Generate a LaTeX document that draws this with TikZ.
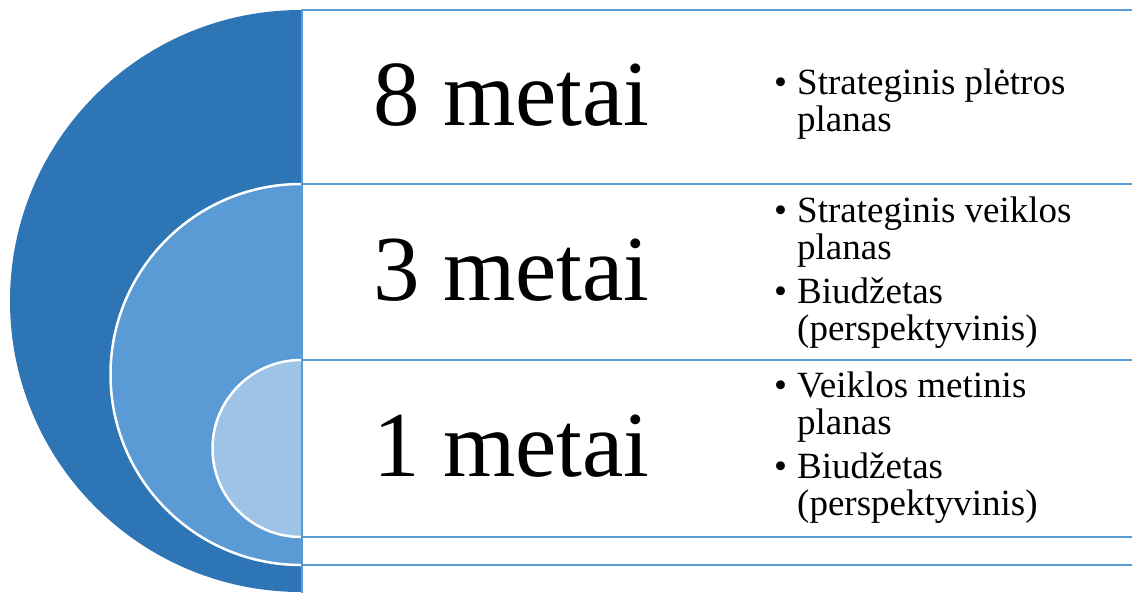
\documentclass[tikz,border=0pt]{standalone}
\usepackage{fontspec}
\IfFontExistsTF{LiberationSerif-Regular.ttf}
  {\setmainfont{LiberationSerif}[Extension=.ttf,UprightFont=*-Regular,BoldFont=*-Bold,ItalicFont=*-Italic,BoldItalicFont=*-BoldItalic]}
  {\setmainfont{Liberation Serif}}
\definecolor{dblue}{HTML}{2E75B6}
\definecolor{mblue}{HTML}{5B9BD5}
\definecolor{lblue}{HTML}{9DC3E6}
\begin{document}
\begin{tikzpicture}[x=1pt,y=-1pt,
  ring/.style={draw=white,line width=2.5pt},
  panel/.style={draw=mblue,line width=2.5pt,fill=white},
  big/.style={font=\rmfamily\fontsize{93}{93}\selectfont,anchor=base,inner sep=0pt},
  txt/.style={font=\rmfamily\fontsize{37}{37}\selectfont,anchor=base west,inner sep=0pt},
  bul/.style={font=\rmfamily\fontsize{37}{37}\selectfont,anchor=base west,inner sep=0pt}]
\useasboundingbox (0,0) rectangle (1132,592);
\clip (0,0) rectangle (1132,592);
\begin{scope}
  \clip (0,0) rectangle (301,592);
  \fill[dblue] (301,301) circle[radius=291pt];
  \filldraw[ring,fill=mblue] (301,374.5) circle[radius=190.5pt];
  \filldraw[ring,fill=lblue] (301,448.5) circle[radius=88.5pt];
\end{scope}
\filldraw[panel] (302,10) rectangle (1145,600);
\filldraw[panel] (302,184) rectangle (1145,565);
\filldraw[panel] (302,360) rectangle (1145,537);
% large labels
\node[big] (t8) at (511.5,125) {8 metai};
\node[big] (t3) at (511.5,300) {3 metai};
\node[big] (t1) at (511.5,476) {1 metai};
% box 1
\node[bul] (b1) at (774,94.5) {\textbullet};
\node[txt] (l1a) at (797,94.5) {Strateginis plėtros};
\node[txt] (l1b) at (797,131.5) {planas};
% box 2
\node[bul] (b2a) at (774,222.3) {\textbullet};
\node[txt] (l2a) at (797,222.3) {Strateginis veiklos};
\node[txt] (l2b) at (797,259) {planas};
\node[bul] (b2b) at (774,303.3) {\textbullet};
\node[txt] (l2c) at (797,303.3) {Biudžetas};
\node[txt] (l2d) at (797,340.5) {(perspektyvinis)};
% box 3
\node[bul] (b3a) at (774,397.3) {\textbullet};
\node[txt] (l3a) at (797,397.3) {Veiklos metinis};
\node[txt] (l3b) at (797,434) {planas};
\node[bul] (b3b) at (774,478.3) {\textbullet};
\node[txt] (l3c) at (797,478.3) {Biudžetas};
\node[txt] (l3d) at (797,515.7) {(perspektyvinis)};
\end{tikzpicture}
\end{document}
